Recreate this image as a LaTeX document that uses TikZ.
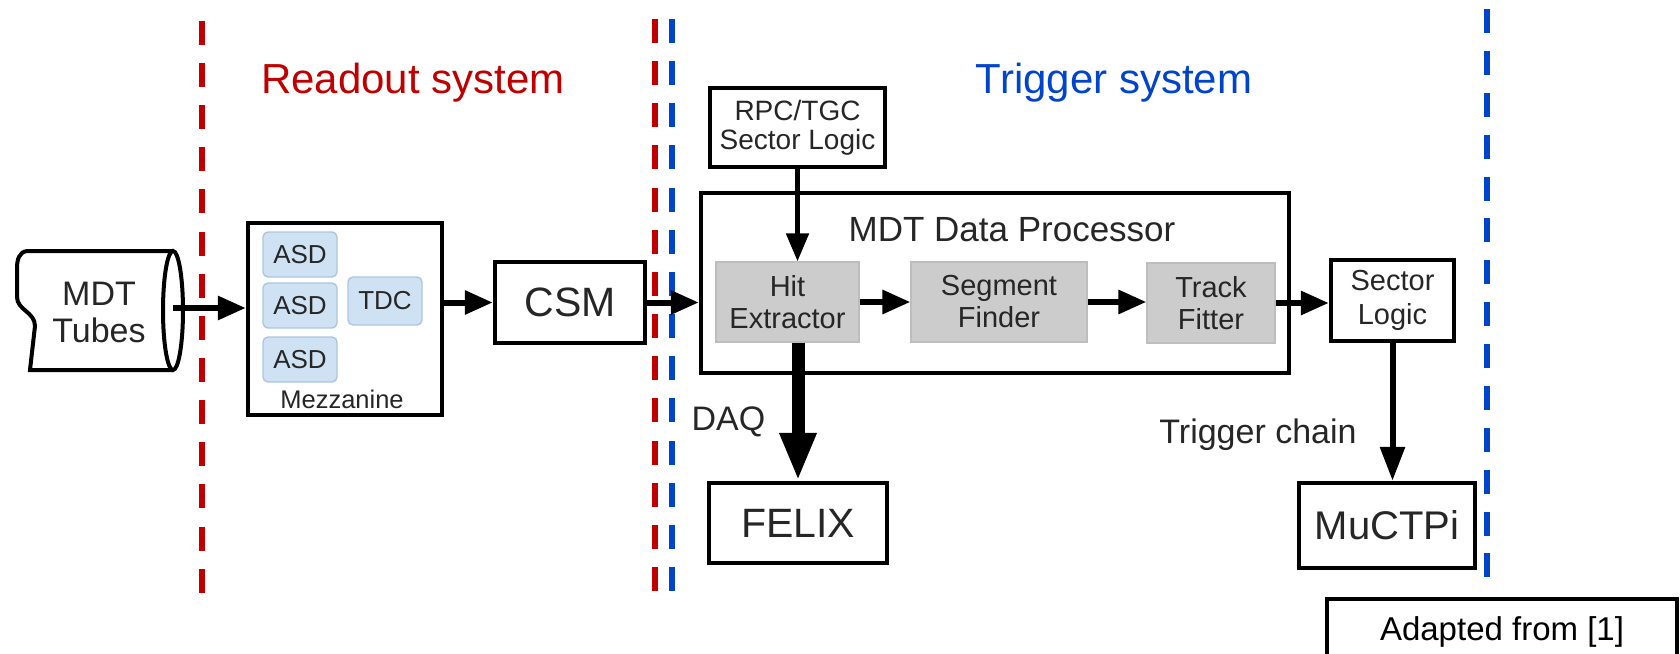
\documentclass[tikz,border=0pt]{standalone}
\usepackage{fontspec}
\setmainfont{Liberation Sans}
\usetikzlibrary{arrows.meta}
\definecolor{rdred}{RGB}{192,0,0}
\definecolor{trblue}{RGB}{0,68,204}
\definecolor{asdfill}{RGB}{207,226,243}
\definecolor{asdline}{RGB}{172,198,222}
\definecolor{procfill}{RGB}{204,204,204}
\definecolor{proclinec}{RGB}{190,190,190}
\definecolor{txt}{RGB}{38,38,38}
\newcommand{\fsz}[2]{\fontsize{#1}{#2}\selectfont}
\begin{document}
\begin{tikzpicture}[x=0.5pt,y=-0.5pt,
  box/.style={draw=black, line width=2.2pt, inner sep=0pt, text=txt, align=center},
  asdbox/.style={draw=asdline, fill=asdfill, rounded corners=2.5pt, line width=0.7pt,
      minimum width=37pt, inner sep=0pt, text=txt, font=\fsz{13}{15}},
  procbox/.style={draw=proclinec, fill=procfill, line width=0.6pt, inner sep=0pt,
      minimum height=40pt, text=txt, align=center, font=\fsz{14.5}{16}},
  conn/.style={line width=3pt, -{Triangle[length=14pt,width=11.5pt]}},
  divider/.style={line width=3pt, dash pattern=on 12pt off 9.08pt},
  lbl/.style={text=txt, inner sep=0pt, anchor=base}
]
\useasboundingbox (0,0) rectangle (1680,653);
\clip (0,0) rectangle (1680,653);

% dividers
\draw[divider, rdred] (201.6,20.7) -- (201.6,593);
\draw[divider, rdred] (655,19) -- (655,592);
\draw[divider, trblue] (672,19) -- (672,592);
\draw[divider, trblue, dash pattern=on 12pt off 8.94pt] (1487,9) -- (1487,577.5);

% headings
\node[lbl, text=rdred, font=\fsz{21}{24}] (readout) at (413,93) {Readout system};
\node[lbl, text=trblue, font=\fsz{21}{24}] (trigger) at (1114,93) {Trigger system};

% MDT tubes
\draw[line width=2pt, fill=white] (173,251) -- (27,251)
   .. controls (19,252) and (17,260) .. (17,268) -- (17,297)
   .. controls (17,310) and (35,312) .. (35,326) -- (30,370) -- (173,370);
\draw[line width=2pt, fill=white] (173,310.5) ellipse [x radius=5pt, y radius=29.75pt];
\node[text=txt, align=center, font=\fsz{17}{18.5}] (tubes) at (99,312) {MDT\\Tubes};
\coordinate (tubesout) at (173,308);

% mezzanine
\node[box, minimum width=97pt, minimum height=96pt] (mezz) at (345,319) {};
\node[asdbox, minimum height=22.5pt] (asd1) at (300,254.5) {ASD};
\node[asdbox, minimum height=22.5pt] (asd2) at (300,305.5) {ASD};
\node[asdbox, minimum height=22.5pt] (asd3) at (300,359.5) {ASD};
\node[asdbox, minimum height=24pt] (tdc) at (385,301) {TDC};
\node[lbl, font=\fsz{12.75}{14}] (mezzlabel) at (342,408) {Mezzanine};

% CSM
\node[box, minimum width=75pt, minimum height=40.5pt, font=\fsz{20.5}{22}] (csm) at (570,302.5) {CSM};

% RPC/TGC
\node[box, minimum width=87.5pt, minimum height=39.5pt, font=\fsz{14}{14.5}] (rpc) at (797.5,127.5) {RPC/TGC\\Sector Logic};

% MDT data processor
\node[box, minimum width=294pt, minimum height=90pt] (mdp) at (995,283) {};
\node[lbl, font=\fsz{17.5}{19}] (mdptitle) at (1012,241) {MDT Data Processor};
\node[procbox, minimum width=71.5pt] (hit) at (787.5,302) {Hit\\Extractor};
\node[procbox, minimum width=88pt] (seg) at (999,302) {Segment\\Finder};
\node[procbox, minimum width=64pt] (track) at (1211,303) {Track\\Fitter};

% right side
\node[box, minimum width=61.5pt, minimum height=40.5pt, font=\fsz{14.5}{17}] (sector) at (1392.5,300.5) {Sector\\Logic};
\node[box, minimum width=88pt, minimum height=42.5pt, font=\fsz{20}{22}] (muctpi) at (1387,525.5) {MuCTPi};
\node[box, minimum width=89pt, minimum height=40pt, font=\fsz{20.5}{22}] (felix) at (798,523) {FELIX};

\node[lbl, font=\fsz{17}{19}] (daq) at (728.5,430) {DAQ};
\node[lbl, font=\fsz{17}{19}] (tchain) at (1258,443) {Trigger chain};

\node[draw=black, line width=2.2pt, minimum width=175pt, minimum height=33pt, inner sep=0pt,
      font=\fsz{16.5}{18}] (adapted) at (1502,632) {Adapted from [1]};

% connectors
\draw[conn] (tubesout) -- (tubesout -| mezz.west);
\draw[conn] (mezz.east |- csm.west) -- (csm.west);
\draw[conn] (csm.east) -- (csm.east -| mdp.west);
\draw[line width=2.5pt, -{Triangle[length=14pt,width=11pt]}] (rpc.south) -- (rpc.south |- hit.north);
\draw[conn] (hit.east) -- (seg.west);
\draw[conn] (seg.east) -- (seg.east -| track.west);
\draw[conn] (track.east) -- (track.east -| sector.west);
\draw[line width=6.5pt, -{Triangle[length=24pt,width=17pt]}] (hit.south -| felix.north) -- (felix.north);
\draw[line width=3pt, -{Triangle[length=17pt,width=12pt]}] (sector.south) -- (sector.south |- muctpi.north);
\end{tikzpicture}
\end{document}
